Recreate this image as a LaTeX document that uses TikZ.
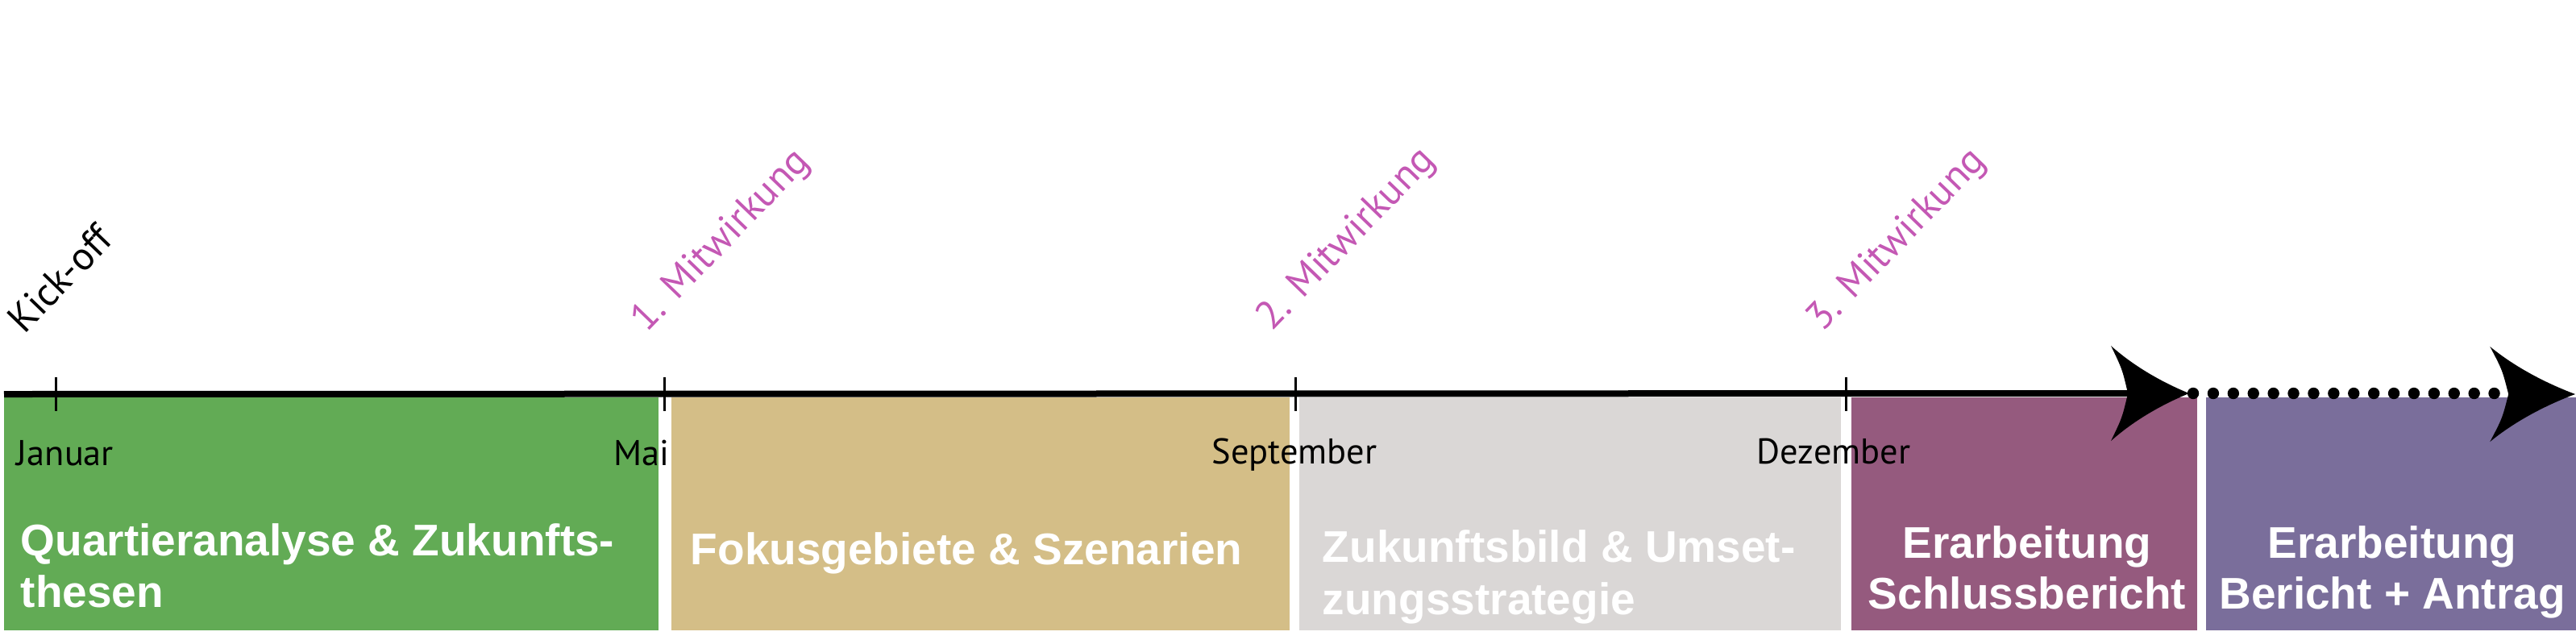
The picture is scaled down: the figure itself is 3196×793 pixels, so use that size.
\documentclass[tikz,border=0pt]{standalone}
\usepackage{fontspec}
\setmainfont{Liberation Sans}
\newfontfamily\labelfont{PT Sans}
\definecolor{cgreen}{HTML}{62AB55}
\definecolor{ctan}{HTML}{D4BE87}
\definecolor{cgrey}{HTML}{DAD7D6}
\definecolor{cplum}{HTML}{955A7E}
\definecolor{cpurple}{HTML}{7A6E9B}
\definecolor{cmagenta}{HTML}{C458B4}
\begin{document}
\begin{tikzpicture}[x=0.25pt,y=-0.25pt,
  phase/.style={font=\fontsize{13.75}{16}\selectfont\bfseries, text=white, inner sep=0pt, anchor=base west},
  phasec/.style={phase, anchor=base},
  month/.style={font=\labelfont\fontsize{11.1}{13}\selectfont, inner sep=0pt, anchor=base},
  milestone/.style={font=\labelfont\fontsize{12.3}{14}\selectfont, inner sep=0pt, anchor=base west, rotate=46},
  ticks/.style={line width=0.75pt},
  axisline/.style={line width=2pt},
  dotline/.style={line width=3.6pt, line cap=round, dash pattern=on 0pt off 6.225pt},
  swept/.pic={\fill (0,0) .. controls (-32,-13) and (-68,-33) .. (-97,-59)
     .. controls (-83,-30) .. (-76,0) .. controls (-83,30) .. (-97,59)
     .. controls (-68,33) and (-32,13) .. (0,0) -- cycle;}]
\useasboundingbox (0,0) rectangle (3196,793);
% phase boxes
\path[fill=cgreen]  (5,493)    rectangle (817,782);
\path[fill=ctan]    (833,493)  rectangle (1600,782);
\path[fill=cgrey]   (1612,493) rectangle (2284,782);
\path[fill=cplum]   (2297,493) rectangle (2726,782);
\path[fill=cpurple] (2737,493) rectangle (3196,782);
% axis coordinates
\coordinate (start) at (5,489);
\coordinate (jan) at (69,489);
\coordinate (mai) at (824,489);
\coordinate (sep) at (1607,489);
\coordinate (dez) at (2290,489);
\coordinate (tip1) at (2716,488);
\coordinate (notch1) at (2645,488);
\coordinate (dot1) at (2721,488);
\coordinate (dotend) at (3100,488);
\coordinate (tip2) at (3195,489);
% axis
\draw[axisline] (start) -- (notch1);
\pic at (tip1) {swept};
\draw[dotline] (dot1) -- (dotend);
\pic[xscale=1.09] at (tip2) {swept};
% ticks
\foreach \t in {jan,mai,sep,dez} \draw[ticks] (\t) ++(0,-21) -- ++(0,42);
% month labels
\node[month, anchor=base west] (janl) at (20,577) {Januar};
\node[month, anchor=base east] (mail) at (831,577) {Mai};
\node[month] (sepl) at (1606,575) {September};
\node[month] (dezl) at (2275,575) {Dezember};
% milestones
\node[milestone] (kick) at (30,416) {Kick-off};
\node[milestone, text=cmagenta] (m1) at (802,414) {1. Mitwirkung};
\node[milestone, text=cmagenta] (m2) at (1578,412) {2. Mitwirkung};
\node[milestone, text=cmagenta] (m3) at (2261,413) {3. Mitwirkung};
% phase texts
\node[phase] (t1a) at (25,689) {Quartieranalyse \& Zukunfts-};
\node[phase] (t1b) at (25,753) {thesen};
\node[phase] (t2) at (856,700) {Fokusgebiete \& Szenarien};
\node[phase] (t3a) at (1640,697) {Zukunftsbild \& Umset-};
\node[phase] (t3b) at (1640,762) {zungsstrategie};
\node[phasec] (t4a) at (2515,692) {Erarbeitung};
\node[phasec] (t4b) at (2515,755) {Schlussbericht};
\node[phasec] (t5a) at (2968,692) {Erarbeitung};
\node[phasec] (t5b) at (2968,755) {Bericht + Antrag};
\end{tikzpicture}
\end{document}
